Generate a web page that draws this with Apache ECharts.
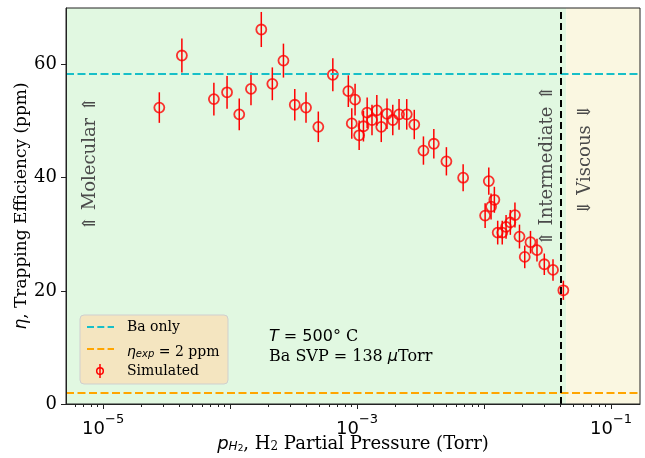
<!DOCTYPE html>
<html>
<head>
<meta charset="utf-8">
<script src="https://cdn.jsdelivr.net/npm/echarts@6/dist/echarts.min.js"></script>
<style>
  html, body { margin: 0; padding: 0; background: #fff; }
  #chart { width: 645px; height: 458px; }
</style>
</head>
<body>
<div id="chart"></div>
<script>
// H2 partial pressure (Torr) and simulated trapping efficiency (ppm)
var pressure = [2.77e-5, 4.17e-5, 7.45e-5, 9.46e-5, 1.18e-4, 1.46e-4, 1.76e-4, 2.15e-4, 2.63e-4, 3.23e-4,
                3.96e-4, 4.95e-4, 6.44e-4, 8.53e-4, 9.64e-4, 9.08e-4, 1.038e-3, 1.122e-3, 1.20e-3, 1.31e-3,
                1.43e-3, 1.55e-3, 1.72e-3, 1.91e-3, 2.14e-3, 2.46e-3, 2.82e-3, 3.33e-3, 4.02e-3, 5.05e-3,
                6.84e-3, 1.089e-2, 1.019e-2, 1.135e-2, 1.205e-2, 1.28e-2, 1.39e-2, 1.49e-2, 1.61e-2, 1.75e-2,
                1.90e-2, 2.09e-2, 2.32e-2, 2.61e-2, 2.98e-2, 3.49e-2, 4.21e-2];
var eta = [52.4, 61.6, 53.9, 55.1, 51.2, 55.7, 66.2, 56.6, 60.7, 52.9,
           52.4, 49.0, 58.2, 55.3, 53.8, 49.6, 47.5, 49.1, 51.5, 50.2,
           51.9, 49.0, 51.3, 50.2, 51.2, 51.2, 49.4, 44.8, 46.0, 42.9,
           40.0, 39.4, 33.3, 34.9, 36.1, 30.3, 30.3, 31.3, 32.1, 33.4,
           29.6, 26.0, 28.6, 27.2, 24.7, 23.7, 20.1];
var etaErr = [2.7, 3.0, 2.9, 2.9, 2.8, 2.9, 3.1, 2.9, 3.0, 2.8,
              2.7, 2.7, 2.9, 2.8, 2.8, 2.7, 2.6, 2.7, 2.7, 2.7,
              2.7, 2.7, 2.7, 2.7, 2.7, 2.7, 2.6, 2.5, 2.6, 2.5,
              2.4, 2.4, 2.2, 2.3, 2.3, 2.1, 2.1, 2.1, 2.2, 2.2,
              2.1, 2.0, 2.0, 2.0, 1.9, 1.9, 1.7];

var baOnly = 58.3;          // Ba only level
var etaExp = 2;             // experimental eta
var regimeBoundary = 0.0443; // intermediate / viscous boundary (Torr)

var xMin = 5.1e-6, xMax = 0.169;
var yMin = 0, yMax = 70;
var xMajorTicks = [1e-5, 1e-4, 1e-3, 1e-2, 1e-1];
var xLabelTicks = [1e-5, 1e-3, 1e-1];
var yTicks = [0, 20, 40, 60];

var xMinorTicks = [];
[1e-6, 1e-5, 1e-4, 1e-3, 1e-2, 1e-1].forEach(function (d) {
    for (var k = 2; k <= 9; k++) {
        var v = d * k;
        if (v > xMin && v < xMax) xMinorTicks.push(v);
    }
});

var SERIF = 'DejaVu Serif';
var SANS = 'DejaVu Sans';
var TEAL = '#17bfc8';
var ORANGE = '#ffa500';
var RED = '#ff0000';
var LABEL_GREY = '#4a4a4a';

var chart = echarts.init(document.getElementById('chart'));

var option = {
    animation: false,
    backgroundColor: '#ffffff',
    grid: {
        left: 66, right: 5, top: 8, bottom: 54,
        containLabel: false, outerBoundsMode: 'none',
        show: true, borderColor: '#222', borderWidth: 1, z: 10
    },
    xAxis: [
        {
            type: 'log', logBase: 10, min: xMin, max: xMax, z: 10,
            axisLine: {show: true, lineStyle: {color: '#222', width: 1}},
            axisTick: {show: true, length: 5, lineStyle: {color: '#222'}, customValues: xMajorTicks},
            splitLine: {show: false},
            axisLabel: {
                customValues: xLabelTicks,
                margin: 9,
                formatter: function (v) {
                    var e = Math.round(Math.log10(v));
                    return '{b|10}{s|\u2212' + Math.abs(e) + '}';
                },
                rich: {
                    b: {fontFamily: SANS, fontSize: 18, color: '#000', verticalAlign: 'bottom', lineHeight: 25},
                    s: {fontFamily: SANS, fontSize: 13, color: '#000', verticalAlign: 'top', lineHeight: 25}
                }
            },
            name: '{i|p}{si|H}{ss|2}{n|, H}{s2|2}{n| Partial Pressure (Torr)}',
            nameLocation: 'middle',
            nameGap: 24,
            nameMoveOverlap: false,
            nameTextStyle: {
                rich: {
                    i: {fontFamily: SANS, fontStyle: 'italic', fontSize: 18, color: '#000', verticalAlign: 'bottom', lineHeight: 25},
                    si: {fontFamily: SANS, fontStyle: 'italic', fontSize: 12, color: '#000', verticalAlign: 'bottom', lineHeight: 22},
                    ss: {fontFamily: SANS, fontSize: 9, color: '#000', verticalAlign: 'bottom', lineHeight: 19},
                    n: {fontFamily: SERIF, fontSize: 18, color: '#000', verticalAlign: 'bottom', lineHeight: 25},
                    s2: {fontFamily: SERIF, fontSize: 12, color: '#000', verticalAlign: 'bottom', lineHeight: 21}
                }
            }
        },
        {
            type: 'log', logBase: 10, min: xMin, max: xMax, position: 'bottom', z: 10,
            axisLine: {show: false},
            axisTick: {show: true, length: 3, lineStyle: {color: '#222'}, customValues: xMinorTicks},
            axisLabel: {show: false},
            splitLine: {show: false}
        }
    ],
    yAxis: {
        type: 'value', min: yMin, max: yMax, z: 10,
        axisLine: {show: true, lineStyle: {color: '#222', width: 1}},
        axisTick: {show: true, length: 5, lineStyle: {color: '#222'}, customValues: yTicks},
        splitLine: {show: false},
        axisLabel: {customValues: yTicks, margin: 9, fontFamily: SERIF, fontSize: 18, color: '#000'},
        name: '{i|\u03b7}{n|, Trapping Efficiency (ppm)}',
        nameLocation: 'middle',
        nameGap: 36,
        nameMoveOverlap: false,
        nameTextStyle: {
            rich: {
                i: {fontFamily: SANS, fontStyle: 'italic', fontSize: 17, color: '#000'},
                n: {fontFamily: SERIF, fontSize: 17, color: '#000'}
            }
        }
    },
    series: [
        {
            type: 'line', data: [], silent: true, z: 0,
            markArea: {
                silent: true,
                data: [
                    [{coord: [xMin, yMin], itemStyle: {color: '#e1f8e1'}}, {coord: [regimeBoundary, yMax]}],
                    [{coord: [regimeBoundary, yMin], itemStyle: {color: '#faf7e1'}}, {coord: [xMax, yMax]}]
                ]
            }
        },
        {
            type: 'line', data: [], silent: true, z: 2,
            markLine: {
                silent: true, symbol: 'none', label: {show: false},
                data: [
                    {yAxis: baOnly, lineStyle: {color: TEAL, width: 2.2, type: [8, 3.5]}},
                    {yAxis: etaExp, lineStyle: {color: ORANGE, width: 2.2, type: [8, 3.5]}},
                    {xAxis: regimeBoundary, lineStyle: {color: '#000', width: 2, type: [7, 4]}}
                ]
            }
        },
        {
            type: 'custom', z: 3, silent: true,
            data: pressure.map(function (p, i) { return [p, eta[i] - etaErr[i], eta[i] + etaErr[i]]; }),
            encode: {x: 0, y: [1, 2]},
            renderItem: function (params, api) {
                var a = api.coord([api.value(0), api.value(1)]);
                var b = api.coord([api.value(0), api.value(2)]);
                return {
                    type: 'line',
                    shape: {x1: a[0], y1: a[1], x2: b[0], y2: b[1]},
                    style: {stroke: RED, lineWidth: 1.5}
                };
            }
        },
        {
            type: 'scatter', z: 4, silent: true,
            data: pressure.map(function (p, i) { return [p, eta[i]]; }),
            symbol: 'circle', symbolSize: 10,
            itemStyle: {color: 'rgba(0,0,0,0)', borderColor: RED, borderWidth: 1.8}
        }
    ],
    graphic: [
        // regime labels
        {type: 'text', x: 90, y: 164, rotation: Math.PI / 2, silent: true, z: 20,
         style: {text: '\u21d1 Molecular \u21d1', font: '18px "DejaVu Serif"', fill: LABEL_GREY, align: 'center', verticalAlign: 'middle'}},
        {type: 'text', x: 547, y: 166, rotation: Math.PI / 2, silent: true, z: 20,
         style: {text: '\u21d1 Intermediate \u21d1', font: '18px "DejaVu Serif"', fill: LABEL_GREY, align: 'center', verticalAlign: 'middle'}},
        {type: 'text', x: 585, y: 160, rotation: Math.PI / 2, silent: true, z: 20,
         style: {text: '\u21d3 Viscous \u21d3', font: '18px "DejaVu Serif"', fill: LABEL_GREY, align: 'center', verticalAlign: 'middle'}},
        // conditions
        {type: 'text', x: 269, y: 327, silent: true, z: 20,
         style: {
             text: '{i|T}{m| = 500\u00b0}{n| C}\n{n|Ba SVP = 138 }{m2|\u03bc}{n|Torr}',
             verticalAlign: 'top',
             rich: {
                 i: {fontFamily: SANS, fontStyle: 'italic', fontSize: 16, fill: '#000', lineHeight: 20},
                 m: {fontFamily: SANS, fontSize: 16, fill: '#000', lineHeight: 20},
                 m2: {fontFamily: SANS, fontStyle: 'italic', fontSize: 16, fill: '#000', lineHeight: 20},
                 n: {fontFamily: SERIF, fontSize: 16, fill: '#000', lineHeight: 20}
             }
         }},
        // legend
        {type: 'rect', silent: true, z: 20,
         shape: {x: 80, y: 315, width: 148, height: 69, r: 4},
         style: {fill: '#f4e5c0', stroke: '#cfcfcf', lineWidth: 1}},
        {type: 'line', silent: true, z: 21, shape: {x1: 87, y1: 327, x2: 114, y2: 327},
         style: {stroke: TEAL, lineWidth: 2.2, lineDash: [7, 3.3]}},
        {type: 'line', silent: true, z: 21, shape: {x1: 87, y1: 349, x2: 114, y2: 349},
         style: {stroke: ORANGE, lineWidth: 2.2, lineDash: [7, 3.3]}},
        {type: 'line', silent: true, z: 21, shape: {x1: 100, y1: 364, x2: 100, y2: 378},
         style: {stroke: RED, lineWidth: 1.5}},
        {type: 'circle', silent: true, z: 21, shape: {cx: 100, cy: 371, r: 3.3},
         style: {fill: 'none', stroke: RED, lineWidth: 1.5}},
        {type: 'text', silent: true, z: 21, x: 127, y: 327,
         style: {text: 'Ba only', font: '14px "DejaVu Serif"', fill: '#000', verticalAlign: 'middle'}},
        {type: 'text', silent: true, z: 21, x: 127, y: 349,
         style: {
             text: '{i|\u03b7}{s|exp}{n| = 2 ppm}', verticalAlign: 'middle',
             rich: {
                 i: {fontFamily: SANS, fontStyle: 'italic', fontSize: 14, fill: '#000', verticalAlign: 'bottom', lineHeight: 20},
                 s: {fontFamily: SANS, fontStyle: 'italic', fontSize: 10, fill: '#000', verticalAlign: 'bottom', lineHeight: 16},
                 n: {fontFamily: SERIF, fontSize: 14, fill: '#000', verticalAlign: 'bottom', lineHeight: 20}
             }
         }},
        {type: 'text', silent: true, z: 21, x: 127, y: 371,
         style: {text: 'Simulated', font: '14px "DejaVu Serif"', fill: '#000', verticalAlign: 'middle'}}
    ]
};

chart.setOption(option);
</script>
</body>
</html>
